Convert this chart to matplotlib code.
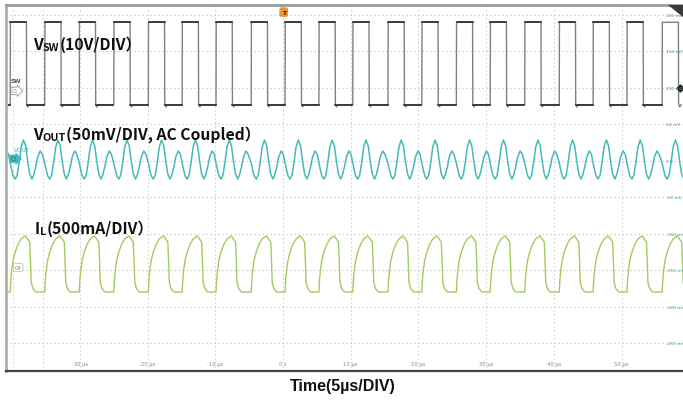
import matplotlib
matplotlib.use('Agg')
import numpy as np
import matplotlib.pyplot as plt
from matplotlib.patches import Polygon

# rising edges of the switch node, in µs
sw_rise = [-45.3, -40.3, -35.2, -30.1, -25.0, -19.9, -14.9, -9.9, -4.7, 0.3,
           5.3, 10.3, 15.5, 20.5, 25.6, 30.6, 35.7, 40.8, 45.8, 50.8, 56.0]

# one switching cycle of each trace, time after the rising edge (µs) and level (screen mV)
sw_dt = [0.0, 0.03, 2.40, 2.43, 2.60, 2.80]
sw_lv = [77, 190, 190, 78, 74, 77]

vout_dt = [0.0, 0.22, 0.44, 0.74, 1.03, 1.33, 1.62, 1.96, 2.29, 2.58, 2.88,
           3.21, 3.47, 3.77, 4.06, 4.43, 4.73]
vout_lv = [-2.7, -12.3, -20.5, -24.7, -19.2, -1.4, 19.2, 28.8, 20.5, 0.0, -17.8,
           -24.7, -19.2, -8.2, 5.5, 13.7, 9.6]

il_dt = [0.0, 0.10, 0.25, 0.44, 0.74, 1.18, 1.62, 2.22, 2.36, 2.88, 3.00, 3.10,
         3.32, 3.62, 3.84]
il_lv = [-179.5, -161.6, -147.9, -135.6, -124.7, -113.7, -106.8, -102.7, -104.1,
         -111.0, -137.0, -165.8, -174.0, -178.0, -179.5]

grid_t = [-30, -20, -10, 0, 10, 20, 30, 40, 50]
t_labels = ['-30 µs', '-20 µs', '-10 µs', '0 s', '10 µs', '20 µs', '30 µs', '40 µs', '50 µs']
grid_v = [200, 150, 100, 50, 0, -50, -100, -150, -200, -250]
v_labels = ['200 mV', '150 mV', '100 mV', '50 mV', '0 V', '-50 mV', '-100 mV',
            '-150 mV', '-200 mV', '-250 mV']

W, H = 683, 402
cjk = ['Noto Sans CJK SC', 'DejaVu Sans']


def tile(starts, dt, lv):
    t, v = [], []
    for s in starts:
        t += [s + d for d in dt]
        v += lv
    return np.array(t), np.array(v)


fig = plt.figure(figsize=(W / 100, H / 100), dpi=100)
fig.patch.set_facecolor('white')
ax = fig.add_axes([6 / W, 1 - 372 / H, 677 / W, 366 / H])
ax.set_xlim(-40.92, 59.08)
ax.set_ylim(-287.7, 213.7)
ax.set_xticks([])
ax.set_yticks([])
ax.spines['right'].set_visible(False)
ax.spines['top'].set_color('#9a9a9a')
ax.spines['top'].set_linewidth(2)
ax.spines['left'].set_color('#b0b0b0')
ax.spines['left'].set_linewidth(2)
ax.spines['bottom'].set_color('#444444')
ax.spines['bottom'].set_linewidth(1.6)

dot = (0, (1.2, 2.4))
for g in grid_t:
    ax.axvline(g, color='#c8c8c8', lw=0.8, ls=dot, zorder=0)
for g in grid_v:
    ax.axhline(g, color='#c8c8c8', lw=0.8, ls=dot, zorder=0)
# cursors near the left edge
for c in [-39.9, -35.45]:
    ax.axvline(c, color='#f0c8a8', lw=0.8, ls=dot, zorder=0)

# switch node: grey edges, darker flat tops and bottoms
t, v = tile(sw_rise, sw_dt, sw_lv)
ax.plot(t, v, color='#808080', lw=1.0)
ht, hv = [], []
for s, nxt in zip(sw_rise[:-1], sw_rise[1:]):
    ht += [s + sw_dt[1], s + sw_dt[2], np.nan]
    hv += [sw_lv[1], sw_lv[2], np.nan]
    ht += [s + sw_dt[3], nxt - 0.05, np.nan]
    hv += [sw_lv[5], sw_lv[5], np.nan]
ax.plot(ht, hv, color='#2a2a2a', lw=1.2)

t, v = tile(sw_rise, vout_dt, vout_lv)
ax.plot(t, v, color='#45b9bb', lw=1.1)
t, v = tile(sw_rise, il_dt, il_lv)
ax.plot(t, v, color='#a2cc62', lw=1.0)

for g, s in zip(grid_t, t_labels):
    ax.text(g, -278, s, fontsize=3.8, color='#8a8a8a', ha='center', va='center')
for g, s in zip(grid_v, v_labels):
    ax.text(56.5, g, s, fontsize=3.2, color='#3a98a4', ha='left', va='center')

# channel badges
ax.text(-40.25, 110, 'SW', fontsize=4.2, color='#555555', ha='left', va='center', weight='bold')
ax.text(-40.0, 96, 'C1', fontsize=3.6, color='#888888', ha='left', va='center',
        bbox=dict(boxstyle='rarrow,pad=0.25', fc='white', ec='#999999', lw=0.6))
ax.text(-39.7, 16, 'VOUT', fontsize=4.2, color='#45b9bb', ha='left', va='center')
ax.text(-40.2, 3, 'C2', fontsize=3.6, color='#1f6e70', ha='left', va='center',
        bbox=dict(boxstyle='rarrow,pad=0.25', fc='#45b9bb', ec='#45b9bb', lw=0.6))
ax.text(-39.6, -146, 'C4', fontsize=3.6, color='#777777', ha='left', va='center',
        bbox=dict(boxstyle='round,pad=0.3', fc='white', ec='#b8d890', lw=0.6))
ax.text(0.1, 204, 'T', fontsize=4.5, color='#402000', ha='center', va='center', weight='bold',
        bbox=dict(boxstyle='round,pad=0.25', fc='#e8962e', ec='#e8962e'))
ax.plot([58.6], [100], marker='D', ms=3.5, color='#222222', clip_on=False)

fig.patches.append(Polygon([(668 / W, 1 - 6 / H), (683 / W, 1 - 6 / H), (683 / W, 1 - 18 / H)],
                           closed=True, transform=fig.transFigure, fc='#3a3a3a', ec='none'))

# channel titles, drawn piece by piece so the subscripts sit right
rend = fig.canvas.get_renderer()


def label(x, y, parts):
    for s, size, dy in parts:
        tx = fig.text(x / W, 1 - (y + dy) / H, s, fontsize=size, weight='bold',
                      family=cjk, va='baseline', ha='left', color='#111111')
        x += tx.get_window_extent(rend).width


label(33, 50, [('V', 11.3, 0), ('SW', 7.8, 0.8), ('(10V/DIV）', 11.3, 0)])
label(33, 140, [('V', 11.3, 0), ('OUT', 7.8, 0.8), ('(50mV/DIV, AC Coupled）', 11.3, 0)])
label(35, 234, [('I', 11.3, 0), ('L', 7.8, 0.8), ('(500mA/DIV）', 11.3, 0)])

fig.text(343 / W, 1 - 391 / H, 'Time(5µs/DIV)', fontsize=11.5, weight='bold',
         family='Liberation Sans', ha='center', va='baseline', color='#111111')

fig.savefig('out.png', dpi=100, facecolor='white')
